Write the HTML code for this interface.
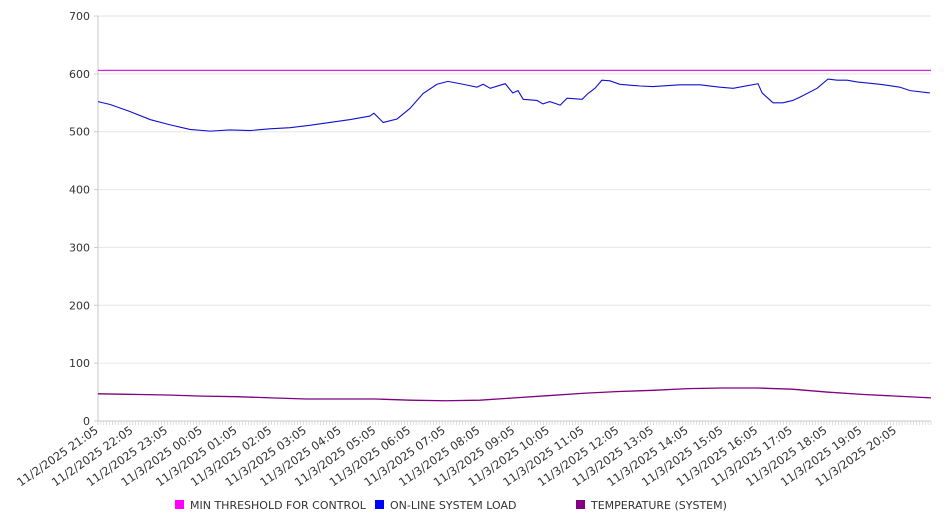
<!DOCTYPE html>
<html><head><meta charset="utf-8"><style>
body{margin:0;background:#fff;width:946px;height:526px;overflow:hidden;font-family:"DejaVu Sans","Liberation Sans",sans-serif}
</style></head><body>
<svg id="chart" width="946" height="526" xmlns="http://www.w3.org/2000/svg" style="font-family:'DejaVu Sans','Liberation Sans',sans-serif"></svg>
<script>
const yTicks=[0,100,200,300,400,500,600,700];
const xLabels=["11/2/2025 21:05","11/2/2025 22:05","11/2/2025 23:05","11/3/2025 00:05","11/3/2025 01:05","11/3/2025 02:05","11/3/2025 03:05","11/3/2025 04:05","11/3/2025 05:05","11/3/2025 06:05","11/3/2025 07:05","11/3/2025 08:05","11/3/2025 09:05","11/3/2025 10:05","11/3/2025 11:05","11/3/2025 12:05","11/3/2025 13:05","11/3/2025 14:05","11/3/2025 15:05","11/3/2025 16:05","11/3/2025 17:05","11/3/2025 18:05","11/3/2025 19:05","11/3/2025 20:05"];
const thresholdValue=606;
const loadMinutes=[0,21,55,90,124,159,194,228,263,297,332,366,401,436,470,477,493,517,539,562,586,605,631,655,666,678,704,717,726,735,759,769,781,799,811,837,847,859,871,885,902,937,959,1006,1041,1075,1098,1141,1148,1167,1184,1201,1214,1243,1262,1278,1295,1312,1352,1386,1404,1438];
const loadValues=[552,547,535,521,512,504,501,503,502,505,507,511,516,521,527,532,516,522,540,566,582,587,582,577,582,575,583,567,571,556,554,548,552,546,558,556,566,575,589,588,582,579,578,581,581,577,575,583,567,550,550,554,560,575,591,589,589,586,582,577,571,567];
const tempHours=[0,1,2,3,4,5,6,7,8,9,10,11,12,13,14,15,16,17,18,19,20,21,22,23,24];
const tempValues=[47,46,45,43,42,40,38,38,38,36,35,36,40,44,48,51,53,56,57,57,55,50,46,43,40];

const svg=document.getElementById('chart');
const NS='http://www.w3.org/2000/svg';
const X0=98,X1=931,Y0=421,Y1=16,TOTAL=1440;
const xScale=m=>X0+(m/TOTAL)*(X1-X0);
const yScale=v=>Y0-(v/700)*(Y0-Y1);
function mk(tag,attrs){const e=document.createElementNS(NS,tag);for(const k in attrs)e.setAttribute(k,attrs[k]);svg.appendChild(e);return e;}

yTicks.forEach(t=>{
  const y=yScale(t);
  if(t>0){const g=mk('line',{x1:X0,x2:X1,y1:y,y2:y,stroke:'#e6e6e6','stroke-width':1});
  
  }
  const tk=mk('line',{x1:X0-4,x2:X0,y1:y,y2:y,stroke:'#ccc'});
  
  
  const tx=mk('text',{x:X0-8,y:y+4,'text-anchor':'end','font-size':11,fill:'#333'});
  tx.textContent=t;
  
  
});
const ax=mk('line',{x1:X0,x2:X0,y1:Y1,y2:Y0,stroke:'#c8c8c8'});


const bx=mk('line',{x1:X0,x2:X1,y1:Y0,y2:Y0,stroke:'#c8c8c8'});


for(let m=0;m<=TOTAL;m+=5){
  const x=xScale(m);
  const t=mk('line',{x1:x,x2:x,y1:Y0,y2:Y0+4,stroke:'#d0d0d0','stroke-width':0.7});
  
  
}
xLabels.forEach((l,i)=>{
  const x=xScale(i*60)+1,y=Y0+11;
  const t=mk('text',{x:x,y:y,'text-anchor':'end','font-size':11.5,fill:'#333',transform:`rotate(-35 ${x} ${y})`});
  t.textContent=l;
  
  
});
const th=mk('line',{x1:X0,x2:X1,y1:yScale(thresholdValue),y2:yScale(thresholdValue),stroke:'#e020e0','stroke-width':1.2});


const lp=mk('polyline',{points:loadMinutes.map((m,i)=>xScale(m)+','+yScale(loadValues[i])).join(' '),fill:'none',stroke:'#1010d0','stroke-width':1.1});


const tp=mk('polyline',{points:tempHours.map((h,i)=>xScale(h*60)+','+yScale(tempValues[i])).join(' '),fill:'none',stroke:'#800080','stroke-width':1.3});


const legend=[["MIN THRESHOLD FOR CONTROL","#ff00ff",175],["ON-LINE SYSTEM LOAD","#0000ff",375],["TEMPERATURE (SYSTEM)","#800080",576]];
legend.forEach(([n,c,x])=>{
  const r=mk('rect',{x:x,y:500,width:9,height:9,fill:c});
  
  
  const t=mk('text',{x:x+15,y:509,'font-size':11,fill:'#333'});
  t.textContent=n;
  
  
});
</script>
</body></html>
